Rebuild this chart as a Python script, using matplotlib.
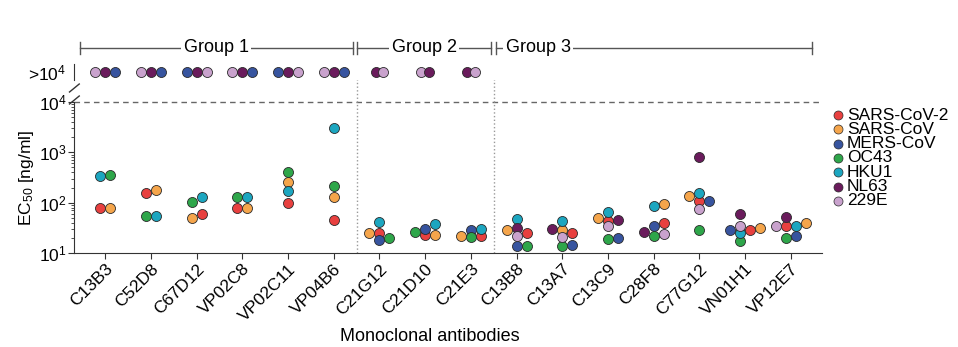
import matplotlib.pyplot as plt
import matplotlib.transforms as mtransforms
import numpy as np

plt.rcParams['font.family'] = ['Liberation Sans', 'DejaVu Sans']
plt.rcParams['mathtext.default'] = 'regular'

antibodies = ['C13B3', 'C52D8', 'C67D12', 'VP02C8', 'VP02C11', 'VP04B6',
              'C21G12', 'C21D10', 'C21E3',
              'C13B8', 'C13A7', 'C13C9', 'C28F8', 'C77G12', 'VN01H1', 'VP12E7']
viruses = ['SARS-CoV-2', 'SARS-CoV', 'MERS-CoV', 'OC43', 'HKU1', 'NL63', '229E']
colors = ['#e8403f', '#f5a54b', '#37549f', '#2ea64a', '#1ca6c0', '#6a1b5c', '#c9a2cd']

nan = np.nan
# EC50 [ng/ml]; nan = above 10^4 (shown in the top row)
sars2 = [78, 155, 60, 78, 100, 46, 24.5, 23, 22, 25, 25, 44, 39, 109, 29, 34]
sars1 = [80, 178, 49, 80, 262, 131, 25, 23, 22, 28, 29, 49, 94, 135, 31, 39]
mers = [nan, nan, nan, nan, nan, nan, 18.3, 30, 29, 14, 14.6, 20, 34, 109, 29, 22]
oc43 = [355, 55, 105, 132, 415, 215, 20, 26, 21, 14, 13.5, 19, 22, 29, 17, 20]
hku1 = [340, 55, 132, 132, 173, 3080, 41, 38, 30, 48, 44, 66, 87, 158, 25, 34]
nl63 = [nan] * 9 + [31, 30, 46, 26, 800, 59, 53]
e229 = [nan] * 9 + [22, 21, 34, 24, 76, 35, 34]
ec50 = [sars2, sars1, mers, oc43, hku1, nl63, e229]

# viruses with EC50 > 10^4, left to right as drawn in the top row
above = [['229E', 'NL63', 'MERS-CoV'], ['229E', 'NL63', 'MERS-CoV'],
         ['MERS-CoV', 'NL63', '229E'], ['229E', 'NL63', 'MERS-CoV'],
         ['MERS-CoV', 'NL63', '229E'], ['229E', 'NL63', 'MERS-CoV'],
         ['NL63', '229E'], ['229E', 'NL63'], ['NL63', '229E']] + [[]] * 7

groups = ['Group 1', 'Group 2', 'Group 3']
group_spans = [(-0.55, 5.42), (5.52, 8.43), (8.54, 15.46)]
group_text_x = [2.43, 6.98, 9.47]

W, H = 958, 347
fig = plt.figure(figsize=(W / 100, H / 100), dpi=100)
ax = fig.add_axes([74 / W, 1 - 253 / H, 748 / W, 151 / H])
axt = fig.add_axes([74 / W, 1 - 80 / H, 748 / W, 16 / H], sharex=ax)

spine_c = '#333333'
for a in (ax, axt):
    for s in ('top', 'right'):
        a.spines[s].set_visible(False)
    a.spines['left'].set_color(spine_c)
    a.spines['bottom'].set_color(spine_c)
axt.spines['bottom'].set_visible(False)

ax.set_yscale('log')
ax.set_ylim(10, 1e4)
ax.set_xlim(-0.68, 15.68)
ax.set_yticks([10, 100, 1000, 10000])
ax.set_yticklabels(['$10^{1}$', '$10^{2}$', '$10^{3}$', '$10^{4}$'], fontsize=12.5)
ax.tick_params(axis='y', which='major', length=4, color=spine_c, pad=1)
ax.tick_params(axis='y', which='minor', length=2.5, color=spine_c)
ax.set_xticks(range(len(antibodies)))
ax.set_xticklabels(antibodies, rotation=45, ha='right', rotation_mode='anchor', fontsize=12.5)
ax.tick_params(axis='x', length=4, color=spine_c, pad=2)
ax.set_ylabel('EC$_{50}$ [ng/ml]', fontsize=12.5, labelpad=2)
ax.set_xlabel('Monoclonal antibodies', fontsize=13)
ax.xaxis.set_label_coords((430 - 74) / 748, -(328 - 253) / 151)

axt.set_ylim(-1, 1)
axt.set_yticks([0])
axt.set_yticklabels(['>$10^{4}$'], fontsize=12.5)
axt.tick_params(axis='y', length=0, pad=6)
axt.tick_params(axis='x', bottom=False, labelbottom=False)

ax.axhline(1e4, color='#666666', ls=(0, (4, 3)), lw=1, clip_on=False, zorder=1)
for xv in (5.5, 8.5):
    ax.axvline(xv, ymin=0, ymax=(253 - 70) / 151, color='#999999', ls=':', lw=1,
               clip_on=False, zorder=1)

# axis break marks
for y0 in (92, 104):
    ax.plot([-0.006, 0.007], [(253 - y0) / 151, (253 - y0 + 8) / 151], color=spine_c,
            lw=1, transform=ax.transAxes, clip_on=False)

# scatter-dot placement in pixel space: points at nearly the same height sit side by side
d = 10.0
ppu = ax.transData.transform((1, 10))[0] - ax.transData.transform((0, 10))[0]


def spread(ypix):
    xs = np.zeros(len(ypix))
    placed = []
    for i in np.argsort(ypix, kind='stable'):
        near = [j for j in placed if abs(ypix[i] - ypix[j]) < 0.55 * d]
        cands = [0.0] + [xs[j] + s * d for j in near for s in (1, -1)]
        cands.sort(key=lambda c: (round(abs(c), 6), -c))
        for c in cands:
            if all(abs(c - xs[j]) >= d - 1e-6 for j in near):
                xs[i] = c
                break
        placed.append(i)
    if len(xs):
        xs -= (xs.min() + xs.max()) / 2
    return xs


ms = d * 0.72
for k, name in enumerate(antibodies):
    vals, cols = [], []
    for v, c in zip(ec50, colors):
        if not np.isnan(v[k]):
            vals.append(v[k])
            cols.append(c)
    if vals:
        ypix = ax.transData.transform(np.column_stack([np.full(len(vals), k), vals]))[:, 1]
        off = spread(ypix) / ppu
        for v, c, o in zip(vals, cols, off):
            ax.plot(k + o, v, 'o', ms=ms, mfc=c, mec='#2a2a2a', mew=0.6, clip_on=False, zorder=3)
    top = above[k]
    if top:
        step = d if len(top) > 2 else d * 0.75
        offs = (np.arange(len(top)) - (len(top) - 1) / 2) * step / ppu
        for vname, o in zip(top, offs):
            axt.plot(k + o, 0, 'o', ms=ms, mfc=colors[viruses.index(vname)], mec='#2a2a2a',
                     mew=0.6, clip_on=False, zorder=3)

# group brackets
btr = mtransforms.blended_transform_factory(ax.transData, fig.transFigure)
gy = 1 - 48 / H
for g, (x0, x1), tx in zip(groups, group_spans, group_text_x):
    fig.lines.append(plt.Line2D([x0, x1], [gy, gy], color='#555555', lw=1, transform=btr))
    for xe in (x0, x1):
        fig.lines.append(plt.Line2D([xe, xe], [gy - 6 / H, gy + 6 / H], color='#555555',
                                    lw=1, transform=btr))
    fig.text(tx, gy, g, transform=btr, ha='center', va='center', fontsize=13,
             bbox=dict(facecolor='white', edgecolor='none', pad=2), zorder=5)

# legend
for i, (vname, c) in enumerate(zip(viruses, colors)):
    yy = 1 - (115 + i * 14.3) / H
    fig.lines.append(plt.Line2D([838 / W], [yy], marker='o', ms=6.5, mfc=c, mec='#2a2a2a',
                                mew=0.5, transform=fig.transFigure))
    fig.text(847 / W, yy, vname, ha='left', va='center', fontsize=12.5)

fig.savefig('out.png', dpi=100)
